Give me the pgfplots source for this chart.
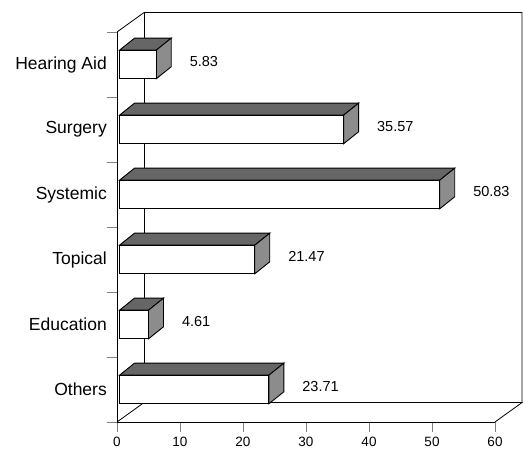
\documentclass[border=0pt]{standalone}
\usepackage{pgfplots}
\usepackage{pgfplotstable}
\pgfplotsset{compat=1.18}
\usepackage{fontspec}
\setmainfont{Liberation Sans}
\definecolor{topface}{gray}{0.40}
\definecolor{sideface}{gray}{0.55}

\pgfplotstableread{
y value
0.5 23.71
1.5 4.61
2.5 21.47
3.5 50.83
4.5 35.57
5.5 5.83
}\datatable

\begin{document}
\begin{tikzpicture}
\begin{axis}[
  at={(117pt,28pt)}, anchor=origin,
  x=6.3pt, y=65pt,
  xmin=0, xmax=60, ymin=0, ymax=6,
  clip=false,
  axis x line*=bottom, axis y line*=left,
  axis line style={line width=0.8pt},
  tick align=outside,
  major tick length=10pt, minor tick length=10pt,
  xtick={0,10,...,60},
  x tick style={line width=0.8pt},
  ytick={0.5,1.5,2.5,3.5,4.5,5.5},
  yticklabels={Others,Education,Topical,Systemic,Surgery,Hearing Aid},
  major y tick style={draw=none},
  minor ytick={0,1,...,6},
  minor y tick style={line width=0.8pt},
  /pgf/number format/assume math mode=true,
  xticklabel style={font=\fontsize{13.5}{14}\selectfont, inner sep=0pt, anchor=north, yshift=-5pt},
  yticklabel style={font=\fontsize{17.5}{18}\selectfont, inner sep=0pt, anchor=east, xshift=0pt},
]
% walls and floor
\draw[line width=0.8pt] (axis cs:0,0) -- (axis cs:4.3,0.3) -- (axis cs:64.3,0.3) -- (axis cs:60,0);
\draw[line width=0.8pt] (axis cs:4.3,0.3) -- (axis cs:4.3,6.3);
\draw[line width=0.8pt] (axis cs:0,6) -- (axis cs:4.3,6.3) -- (axis cs:64.3,6.3) -- (axis cs:64.3,0.3);

% top and side faces
\addplot[fill=topface, draw=black, line width=0.9pt, xshift=2.5pt] coordinates {(0,0.72) (23.71,0.72) (26.09,0.905) (2.38,0.905)} -- cycle;
\addplot[fill=sideface, draw=black, line width=0.9pt, xshift=2.5pt] coordinates {(23.71,0.28) (23.71,0.72) (26.09,0.905) (26.09,0.465)} -- cycle;
\addplot[fill=topface, draw=black, line width=0.9pt, xshift=2.5pt] coordinates {(0,1.72) (4.61,1.72) (6.99,1.905) (2.38,1.905)} -- cycle;
\addplot[fill=sideface, draw=black, line width=0.9pt, xshift=2.5pt] coordinates {(4.61,1.28) (4.61,1.72) (6.99,1.905) (6.99,1.465)} -- cycle;
\addplot[fill=topface, draw=black, line width=0.9pt, xshift=2.5pt] coordinates {(0,2.72) (21.47,2.72) (23.85,2.905) (2.38,2.905)} -- cycle;
\addplot[fill=sideface, draw=black, line width=0.9pt, xshift=2.5pt] coordinates {(21.47,2.28) (21.47,2.72) (23.85,2.905) (23.85,2.465)} -- cycle;
\addplot[fill=topface, draw=black, line width=0.9pt, xshift=2.5pt] coordinates {(0,3.72) (50.83,3.72) (53.21,3.905) (2.38,3.905)} -- cycle;
\addplot[fill=sideface, draw=black, line width=0.9pt, xshift=2.5pt] coordinates {(50.83,3.28) (50.83,3.72) (53.21,3.905) (53.21,3.465)} -- cycle;
\addplot[fill=topface, draw=black, line width=0.9pt, xshift=2.5pt] coordinates {(0,4.72) (35.57,4.72) (37.95,4.905) (2.38,4.905)} -- cycle;
\addplot[fill=sideface, draw=black, line width=0.9pt, xshift=2.5pt] coordinates {(35.57,4.28) (35.57,4.72) (37.95,4.905) (37.95,4.465)} -- cycle;
\addplot[fill=topface, draw=black, line width=0.9pt, xshift=2.5pt] coordinates {(0,5.72) (5.83,5.72) (8.21,5.905) (2.38,5.905)} -- cycle;
\addplot[fill=sideface, draw=black, line width=0.9pt, xshift=2.5pt] coordinates {(5.83,5.28) (5.83,5.72) (8.21,5.905) (8.21,5.465)} -- cycle;

% front faces
\addplot[xbar, bar width=28.6pt, fill=white, draw=black, line width=1.1pt, xshift=2.5pt,
  nodes near coords,
  nodes near coords align=horizontal,
  point meta=x,
  every node near coord/.append style={font=\fontsize{14.5}{15}\selectfont, anchor=west, inner sep=0pt, xshift=33pt, yshift=3pt,
    /pgf/number format/.cd, fixed, fixed zerofill, precision=2, assume math mode=true},
] table[x=value, y=y] {\datatable};
\end{axis}
\pgfresetboundingbox
\path (0,0) rectangle (523pt,450pt);
\end{tikzpicture}
\end{document}
